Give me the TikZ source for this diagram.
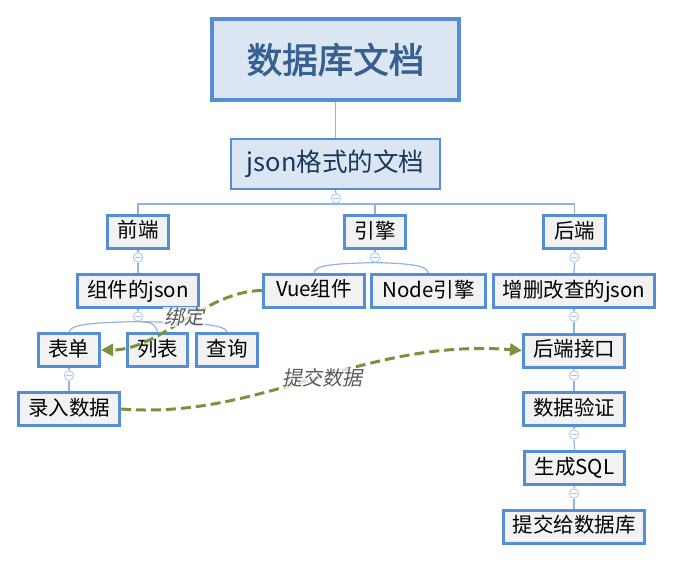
\documentclass[tikz,border=0pt]{standalone}
\usepackage{fontspec}
\setmainfont[AutoFakeSlant=0.2,AutoFakeBold=2]{Noto Sans CJK SC}
\usetikzlibrary{arrows.meta}
\definecolor{bord}{HTML}{558ED5}
\definecolor{lightfill}{HTML}{DCE6F2}
\definecolor{nodefill}{HTML}{F2F2F2}
\definecolor{conncol}{HTML}{8EB4E3}
\definecolor{titletext}{HTML}{376092}
\definecolor{jsontext}{HTML}{17375E}
\definecolor{garrowcol}{HTML}{77933C}
\definecolor{labelcol}{HTML}{595959}
\definecolor{circcol}{HTML}{A9C4EB}
\tikzset{
  box/.style={draw=bord, line width=3pt, fill=nodefill, inner sep=0pt,
    minimum height=33pt, font=\fontsize{20.5}{22}\selectfont,
    text height=15.5pt, text depth=3.5pt},
  titlebox/.style={draw=bord, line width=4pt, fill=lightfill, inner sep=0pt,
    minimum width=247pt, minimum height=81pt, text=titletext,
    font=\fontsize{35.5}{38}\selectfont\bfseries},
  jsonbox/.style={draw=bord, line width=2pt, fill=lightfill, inner sep=0pt,
    minimum width=209pt, minimum height=50pt, text=jsontext,
    font=\fontsize{25.5}{28}\selectfont, text height=19.5pt, text depth=5pt},
  conn/.style={draw=conncol, line width=1.2pt},
  circ/.style={circle, draw=circcol, fill=white, line width=0.8pt, inner sep=0pt,
    minimum size=9.4pt,
    path picture={\draw[circcol, line width=1pt]
      ([xshift=-2.6pt]path picture bounding box.center) --
      ([xshift=2.6pt]path picture bounding box.center);}},
  garrow/.style={draw=garrowcol, line width=3pt, dash pattern=on 10pt off 5pt,
    -{Triangle[length=12pt,width=12pt]}},
  glabel/.style={text=labelcol, font=\fontsize{20}{22}\selectfont\itshape,
    fill=white, fill opacity=0.75, text opacity=1, inner sep=1pt}
}
\begin{document}
\begin{tikzpicture}[x=1pt,y=-1pt]
\useasboundingbox (0,0) rectangle (673,562);

% main nodes
\node[titlebox] (title) at (335.5,59.5) {数据库文档};
\node[jsonbox] (json) at (335.5,164) {json格式的文档};

\node[box, minimum width=61pt] (qd) at (138,231.5) {前端};
\node[box, minimum width=61pt] (yq) at (375,232) {引擎};
\node[box, minimum width=62pt] (hd) at (574.5,232) {后端};

\node[box, minimum width=121pt] (zj) at (138,291) {组件的json};
\node[box, minimum width=101pt] (vue) at (314,290.5) {Vue组件};
\node[box, minimum width=114pt] (nodeyq) at (428.5,291) {Node引擎};
\node[box, minimum width=161pt] (zsgc) at (574,291) {增删改查的json};

\node[box, minimum width=61pt] (bd) at (69,350) {表单};
\node[box, minimum width=60pt] (lb) at (157.5,350) {列表};
\node[box, minimum width=61pt] (cx) at (227,350) {查询};
\node[box, minimum width=101pt] (lr) at (69,409) {录入数据};

\node[box, minimum width=101pt] (jk) at (574,350.5) {后端接口};
\node[box, minimum width=101pt] (yz) at (574,409) {数据验证};
\node[box, minimum width=100pt] (sql) at (574.5,468) {生成SQL};
\node[box, minimum width=141pt] (tj) at (574,526.5) {提交给数据库};

% collapse circles
\node[circ] (c0) at (336,198.5) {};
\node[circ] (c1) at (138,257.5) {};
\node[circ] (c2) at (375,257.5) {};
\node[circ] (c3) at (574.5,257.5) {};
\node[circ] (c4) at (138,316.5) {};
\node[circ] (c5) at (574,316.5) {};
\node[circ] (c6) at (69,375.5) {};
\node[circ] (c7) at (574,375.5) {};
\node[circ] (c8) at (574,434.5) {};
\node[circ] (c9) at (574,493.5) {};
\coordinate (bar) at (336,204);

% tree connectors
\draw[conn] (title.south) -- (json.north);
\draw[conn] (json.south) -- (c0.north);
\draw[conn] (c0.south) -- (c0.south |- bar);
\draw[conn] (qd.north) -- (qd.north |- bar) -- (hd.north |- bar) -- (hd.north);
\draw[conn] (yq.north) -- (yq.north |- bar);

\draw[conn] (qd.south) -- (c1.north);
\draw[conn] (c1.south) -- (zj.north);

\draw[conn] (yq.south) -- (c2.north);
\draw[conn] (c2.south) .. controls +(-45,1) and +(2,-7) .. (vue.north);
\draw[conn] (c2.south) .. controls +(40,1) and +(-2,-7) .. (nodeyq.north);

\draw[conn] (hd.south) -- (c3.north);
\draw[conn] (c3.south) -- (zsgc.north);

\draw[conn] (zj.south) -- (c4.north);
\draw[conn] (c4.south) .. controls +(-52,1) and +(2,-7) .. (bd.north);
\draw[conn] (c4.south) .. controls +(15,0) and +(-2,-7) .. (lb.north);
\draw[conn] (c4.south) .. controls +(65,1) and +(-2,-7) .. (cx.north);

\draw[conn] (bd.south) -- (c6.north);
\draw[conn] (c6.south) -- (lr.north);

\draw[conn] (zsgc.south) -- (c5.north);
\draw[conn] (c5.south) -- (jk.north);
\draw[conn] (jk.south) -- (c7.north);
\draw[conn] (c7.south) -- (yz.north);
\draw[conn] (yz.south) -- (c8.north);
\draw[conn] (c8.south) -- (sql.north);
\draw[conn] (sql.south) -- (c9.north);
\draw[conn] (c9.south) -- (tj.north);

% green relations
\draw[garrow] (vue.west) .. controls (205,291) and (160,350) .. (bd.east);
\node[glabel] (lbind) at (184,317) {绑定};

\draw[garrow] (lr.east) .. controls (262,420) and (360,338) .. (jk.west);
\node[glabel] (lsubmit) at (322,378) {提交数据};
\end{tikzpicture}
\end{document}
